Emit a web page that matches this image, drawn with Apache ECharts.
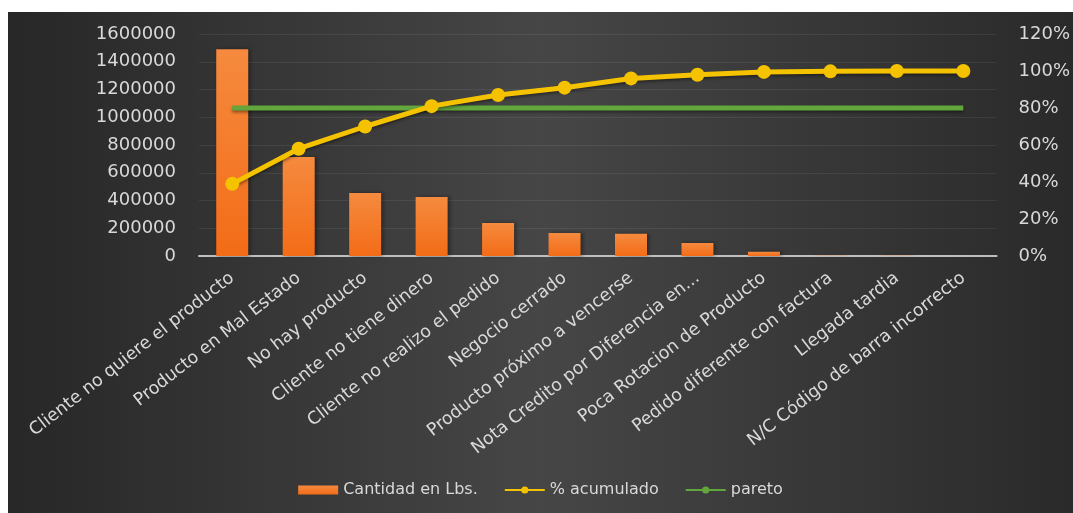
<!DOCTYPE html>
<html>
<head>
<meta charset="utf-8">
<script src="https://cdn.jsdelivr.net/npm/echarts@6/dist/echarts.min.js"></script>
<style>
  html, body { margin: 0; padding: 0; background: #fff; }
  #chart { position: absolute; left: 8px; top: 12px; width: 1065px; height: 501px; }
</style>
</head>
<body>
<div id="chart"></div>
<script>
// categorias del pareto
var categorias = [
  'Cliente no quiere el producto',
  'Producto en Mal Estado',
  'No hay producto',
  'Cliente no tiene dinero',
  'Cliente no realizo el pedido',
  'Negocio cerrado',
  'Producto próximo a vencerse',
  'Nota Credito por Diferencia en...',
  'Poca Rotacion de Producto',
  'Pedido diferente con factura',
  'Llegada tardia',
  'N/C Código de barra incorrecto'
];
// cantidad en libras
var cantidad = [1490000, 713000, 454000, 425000, 238000, 166000, 160000, 94000, 30000, 2000, 1000, 500];
// porcentaje acumulado
var acumulado = [39, 58, 70, 81, 87, 91, 96, 98, 99.5, 99.8, 100, 100];
// linea de referencia 80%
var pareto = [80, 80, 80, 80, 80, 80, 80, 80, 80, 80, 80, 80];

var myChart = echarts.init(document.getElementById('chart'));

var txt = '#d9d9d9';
var fuente = 'DejaVu Sans';

var option = {
  backgroundColor: new echarts.graphic.LinearGradient(0, 0, 1, 0, [
    { offset: 0, color: '#272727' },
    { offset: 0.5, color: '#464646' },
    { offset: 1, color: '#2a2a2a' }
  ]),
  animation: false,
  grid: {
    left: 191,
    right: 76,
    top: 22,
    bottom: 257
  },
  legend: {
    bottom: 10,
    left: 'center',
    itemGap: 26,
    itemWidth: 40,
    itemHeight: 9,
    textStyle: { color: txt, fontSize: 16, fontFamily: fuente },
    data: [
      { name: 'Cantidad en Lbs.', icon: 'rect' },
      { name: '% acumulado' },
      { name: 'pareto' }
    ]
  },
  xAxis: {
    type: 'category',
    data: categorias,
    axisTick: { show: false },
    axisLine: { lineStyle: { color: '#bfbfbf', width: 2 } },
    axisLabel: {
      interval: 0,
      rotate: 38,
      color: txt,
      fontSize: 17.5,
      fontFamily: fuente,
      margin: 20
    }
  },
  yAxis: [
    {
      type: 'value',
      min: 0,
      max: 1600000,
      interval: 200000,
      axisLine: { show: false },
      axisTick: { show: false },
      splitLine: { lineStyle: { color: 'rgba(255,255,255,0.07)', width: 1 } },
      axisLabel: {
        color: txt, fontSize: 18, fontFamily: fuente, margin: 23,
        formatter: function (v) { return String(v); }
      }
    },
    {
      type: 'value',
      min: 0,
      max: 120,
      interval: 20,
      axisLine: { show: false },
      axisTick: { show: false },
      splitLine: { show: false },
      axisLabel: { color: txt, fontSize: 18, fontFamily: fuente, margin: 22, formatter: '{value}%' }
    }
  ],
  series: [
    {
      name: 'Cantidad en Lbs.',
      type: 'bar',
      data: cantidad,
      barWidth: 32,
      itemStyle: {
        color: new echarts.graphic.LinearGradient(0, 0, 0, 1, [
          { offset: 0, color: '#f58a3e' },
          { offset: 1, color: '#f36c17' }
        ]),
        shadowColor: 'rgba(0,0,0,0.4)',
        shadowBlur: 4,
        shadowOffsetX: 2
      }
    },
    {
      name: 'pareto',
      type: 'line',
      yAxisIndex: 1,
      data: pareto,
      symbol: 'none',
      lineStyle: { color: '#62a63c', width: 5, shadowColor: 'rgba(0,0,0,0.4)', shadowBlur: 3, shadowOffsetY: 2 },
      itemStyle: { color: '#62a63c' }
    },
    {
      name: '% acumulado',
      type: 'line',
      yAxisIndex: 1,
      data: acumulado,
      symbol: 'circle',
      symbolSize: 14,
      lineStyle: { color: '#f5c200', width: 5, shadowColor: 'rgba(0,0,0,0.4)', shadowBlur: 3, shadowOffsetY: 2 },
      itemStyle: { color: '#f5c200' }
    }
  ]
};

myChart.setOption(option);
</script>
</body>
</html>
